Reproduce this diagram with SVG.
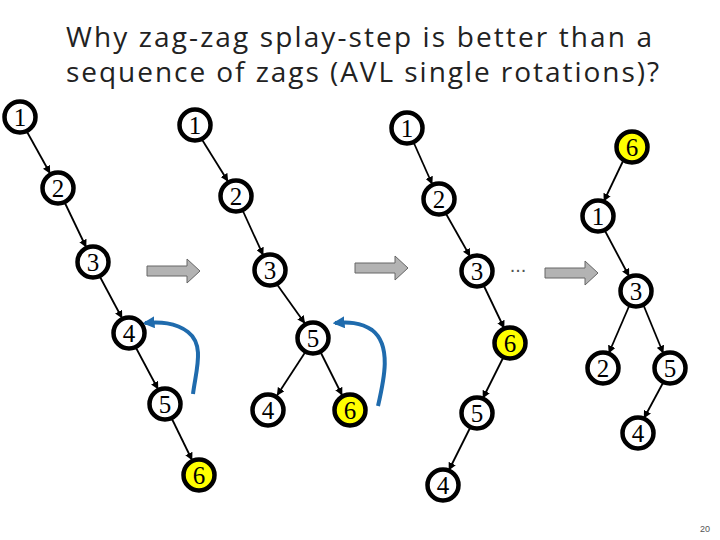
<svg xmlns="http://www.w3.org/2000/svg" width="720" height="540" viewBox="0 0 720 540">
<defs>
<marker id="ah" viewBox="0 0 14 10" refX="12" refY="5" markerWidth="11" markerHeight="8" markerUnits="userSpaceOnUse" orient="auto"><path d="M0,0 L10,5 L0,10 z" fill="#000"/></marker>
<marker id="bh" viewBox="0 0 10 10" refX="8" refY="5" markerWidth="12" markerHeight="12" markerUnits="userSpaceOnUse" orient="auto"><path d="M0,0 L10,5 L0,10 z" fill="#1f6bad"/></marker>
<style>
.n circle{fill:#fff;stroke:#000;stroke-width:4.5}
.n.y circle{fill:#ffff00}
.n text{font-family:"Liberation Serif",serif;font-size:25px;text-anchor:middle}
.e{stroke:#000;stroke-width:1.8;marker-end:url(#ah)}
.b{fill:none;stroke:#1f6bad;stroke-width:4;marker-end:url(#bh)}
.g{fill:#b3b3b3;stroke:#666;stroke-width:1}
.t{font-family:"Open Sans",sans-serif;font-size:28px;fill:#222}
</style>
</defs>
<text class="t" x="66" y="47" textLength="586">Why zag-zag splay-step is better than a</text>
<text class="t" x="66" y="82" textLength="593">sequence of zags (AVL single rotations)?</text>
<g id="connectors">
<line class="e" x1="26" y1="130" x2="51" y2="175"/>
<line class="e" x1="64" y1="201" x2="87" y2="249"/>
<line class="e" x1="99" y1="275" x2="123" y2="320"/>
<line class="e" x1="135" y1="346" x2="159" y2="391"/>
<line class="e" x1="171" y1="417" x2="193" y2="462"/>
<line class="e" x1="201" y1="138" x2="229" y2="183"/>
<line class="e" x1="242" y1="209" x2="264" y2="257"/>
<line class="e" x1="276" y1="283" x2="306" y2="325"/>
<line class="e" x1="306" y1="351" x2="276" y2="397"/>
<line class="e" x1="320" y1="351" x2="343" y2="397"/>
<line class="e" x1="413" y1="141" x2="433" y2="186"/>
<line class="e" x1="445" y1="212" x2="471" y2="258"/>
<line class="e" x1="483" y1="284" x2="505" y2="330"/>
<line class="e" x1="504" y1="356" x2="482" y2="400"/>
<line class="e" x1="471" y1="426" x2="448" y2="472"/>
<line class="e" x1="624" y1="159" x2="603" y2="203"/>
<line class="e" x1="604" y1="229" x2="630" y2="278"/>
<line class="e" x1="630" y1="304" x2="608" y2="355"/>
<line class="e" x1="643" y1="304" x2="664" y2="355"/>
<line class="e" x1="664" y1="381" x2="643" y2="420"/>
<path class="b" d="M193,394 C196,370 205,345 188,332 C175,322 160,322 145,323"/>
<path class="b" d="M378,406 C384,380 392,345 372,330 C360,322 348,322 335,323"/>
<path class="g" d="M147,266 H187 V259 L200,271 L187,283 V276 H147 Z"/>
<path class="g" d="M355,263 H395 V256 L408,268 L395,280 V273 H355 Z"/>
<path class="g" d="M545,268 H585 V261 L598,273 L585,285 V278 H545 Z"/>
</g>
<text x="518" y="272" font-family="Liberation Sans,sans-serif" font-size="20" fill="#555" text-anchor="middle">...</text>
<g id="t1n1" class="n"><circle cx="20" cy="117" r="15.5"/><text x="20" y="126">1</text></g>
<g id="t1n2" class="n"><circle cx="58" cy="188" r="15.5"/><text x="58" y="197">2</text></g>
<g id="t1n3" class="n"><circle cx="93" cy="262" r="15.5"/><text x="93" y="271">3</text></g>
<g id="t1n4" class="n"><circle cx="129" cy="333" r="15.5"/><text x="129" y="342">4</text></g>
<g id="t1n5" class="n"><circle cx="165" cy="404" r="15.5"/><text x="165" y="413">5</text></g>
<g id="t1n6" class="n y"><circle cx="199" cy="475" r="15.5"/><text x="199" y="484">6</text></g>
<g id="t2n1" class="n"><circle cx="195" cy="125" r="15.5"/><text x="195" y="134">1</text></g>
<g id="t2n2" class="n"><circle cx="236" cy="196" r="15.5"/><text x="236" y="205">2</text></g>
<g id="t2n3" class="n"><circle cx="270" cy="270" r="15.5"/><text x="270" y="279">3</text></g>
<g id="t2n5" class="n"><circle cx="313" cy="338" r="15.5"/><text x="313" y="347">5</text></g>
<g id="t2n4" class="n"><circle cx="268" cy="410" r="15.5"/><text x="268" y="419">4</text></g>
<g id="t2n6" class="n y"><circle cx="350" cy="410" r="15.5"/><text x="350" y="419">6</text></g>
<g id="t3n1" class="n"><circle cx="407" cy="128" r="15.5"/><text x="407" y="137">1</text></g>
<g id="t3n2" class="n"><circle cx="439" cy="199" r="15.5"/><text x="439" y="208">2</text></g>
<g id="t3n3" class="n"><circle cx="477" cy="271" r="15.5"/><text x="477" y="280">3</text></g>
<g id="t3n6" class="n y"><circle cx="510" cy="343" r="15.5"/><text x="510" y="352">6</text></g>
<g id="t3n5" class="n"><circle cx="477" cy="413" r="15.5"/><text x="477" y="422">5</text></g>
<g id="t3n4" class="n"><circle cx="443" cy="485" r="15.5"/><text x="443" y="494">4</text></g>
<g id="t4n6" class="n y"><circle cx="632" cy="147" r="15.5"/><text x="632" y="156">6</text></g>
<g id="t4n1" class="n"><circle cx="598" cy="216" r="15.5"/><text x="598" y="225">1</text></g>
<g id="t4n3" class="n"><circle cx="636" cy="291" r="15.5"/><text x="636" y="300">3</text></g>
<g id="t4n2" class="n"><circle cx="603" cy="368" r="15.5"/><text x="603" y="377">2</text></g>
<g id="t4n5" class="n"><circle cx="670" cy="368" r="15.5"/><text x="670" y="377">5</text></g>
<g id="t4n4" class="n"><circle cx="638" cy="433" r="15.5"/><text x="638" y="442">4</text></g>
<text x="710" y="532" font-family="Liberation Sans,sans-serif" font-size="9" fill="#555" text-anchor="end">20</text>
</svg>
